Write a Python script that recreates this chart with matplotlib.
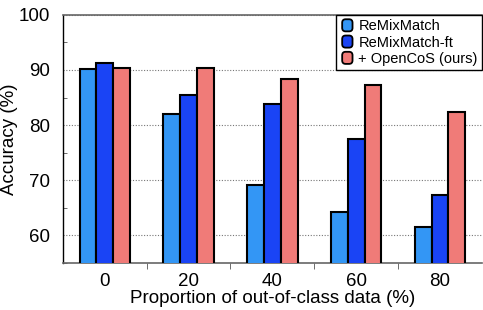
import matplotlib
matplotlib.use("Agg")
import matplotlib.pyplot as plt
import numpy as np
from matplotlib.ticker import MultipleLocator, FixedLocator
from matplotlib.legend_handler import HandlerPatch
from matplotlib.patches import FancyBboxPatch

categories = ["0", "20", "40", "60", "80"]
series_names = ["ReMixMatch", "ReMixMatch-ft", "+ OpenCoS (ours)"]
remixmatch = [90.2, 82.0, 69.2, 64.2, 61.5]
remixmatch_ft = [91.2, 85.5, 83.8, 77.5, 67.4]
opencos = [90.4, 90.3, 88.4, 87.3, 82.4]
colors = ["#3396F5", "#1A44F5", "#F07B78"]

plt.rcParams['font.family'] = ['Liberation Sans', 'DejaVu Sans']


class RoundHandler(HandlerPatch):
    def create_artists(self, legend, orig_handle, xdescent, ydescent, width, height, fontsize, trans):
        p = FancyBboxPatch((-xdescent + 1, -ydescent), width - 2, height,
                           boxstyle="round,pad=0,rounding_size=2.5",
                           facecolor=orig_handle.get_facecolor(), edgecolor='black',
                           linewidth=1.3, transform=trans)
        return [p]


fig = plt.figure(figsize=(4.83, 3.10), dpi=100)
ax = fig.add_axes([0.130, 0.152, 0.868, 0.800])

x = np.arange(len(categories))
w = 0.2
bars = []
for i, (vals, c, name) in enumerate(zip([remixmatch, remixmatch_ft, opencos], colors, series_names)):
    b = ax.bar(x + (i - 1) * w, vals, width=w, color=c, edgecolor="black", linewidth=1.5,
               label=name, zorder=3)
    bars.append(b)

ax.set_xlim(-0.5, 4.5)
ax.set_ylim(55, 100)
ax.set_yticks([60, 70, 80, 90, 100])
ax.yaxis.set_minor_locator(MultipleLocator(5))
ax.set_xticks(x)
ax.set_xticklabels(categories)
ax.xaxis.set_minor_locator(FixedLocator([0.5, 1.5, 2.5, 3.5]))
ax.tick_params(axis='x', which='major', length=0, labelsize=13.5, pad=7)
ax.tick_params(axis='x', which='minor', length=4, direction='out', color='#555555')
ax.tick_params(axis='y', which='major', length=0, labelsize=13.5, pad=9)
ax.tick_params(axis='y', which='minor', length=3, direction='in', color='#555555')

ax.grid(axis='y', which='major', linestyle=(0, (1, 1.5)), color='#777777', linewidth=0.8, zorder=0)
ax.set_axisbelow(True)

for s in ['top', 'bottom']:
    ax.spines[s].set_color('#666666')
    ax.spines[s].set_linewidth(1.2)
ax.spines['left'].set_color('black')
ax.spines['left'].set_linewidth(1.0)
ax.spines['right'].set_visible(False)

ax.set_ylabel("Accuracy (%)", fontsize=13.5)
ax.yaxis.set_label_coords(-0.106, 0.5)
ax.set_xlabel("Proportion of out-of-class data (%)", fontsize=13.5, labelpad=0)

handles = [b.patches[0] for b in bars]
leg = ax.legend(handles, series_names, loc='upper right', fontsize=10.5, frameon=True, fancybox=False,
                edgecolor='black', framealpha=1, borderpad=0.3, labelspacing=0.15,
                handlelength=0.9, handleheight=0.9, handletextpad=0.3,
                borderaxespad=0.0, handler_map={matplotlib.patches.Rectangle: RoundHandler()})
leg.get_frame().set_linewidth(1.0)

fig.savefig("out.png", dpi=100)
